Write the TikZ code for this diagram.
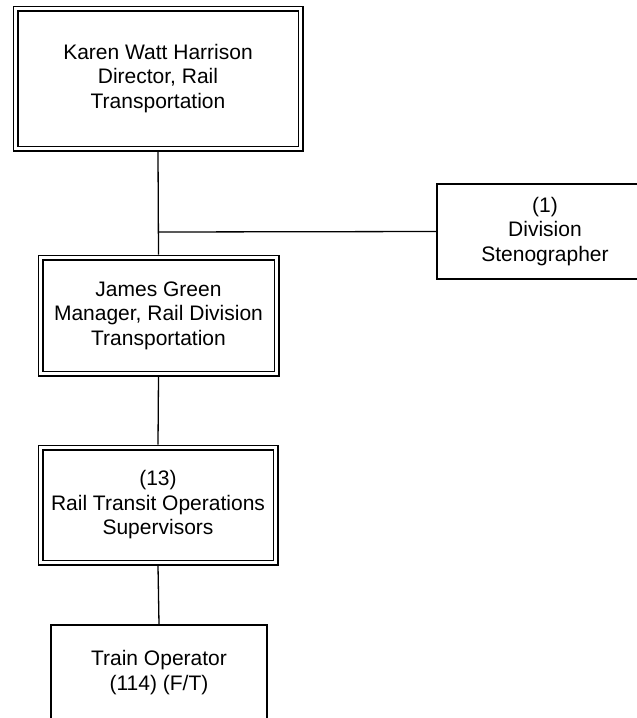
\documentclass[tikz,border=0pt]{standalone}
\usepackage{fontspec}
\setmainfont{Liberation Sans}
\begin{document}
\begin{tikzpicture}[x=1pt,y=-1pt,
  every node/.style={font=\fontsize{21}{24.5}\selectfont, align=center, inner sep=0pt},
  dbox/.style={draw, line width=1.2pt, double, double distance=3.6pt, outer sep=3pt, fill=white},
  sbox/.style={draw, line width=1.3pt, outer sep=0.6pt, fill=white},
  conn/.style={line width=1.3pt}]
\useasboundingbox (0,0) rectangle (637,718);
\clip (0,0) rectangle (637,718);
\node[dbox, minimum width=285pt, minimum height=140pt] (dir) at (158,78.5)
  {Karen Watt Harrison\\Director, Rail\\Transportation};
\node[dbox, minimum width=236pt, minimum height=116pt] (mgr) at (158.5,315.5)
  {James Green\\Manager, Rail Division\\Transportation};
\node[dbox, minimum width=235pt, minimum height=115pt] (sup) at (158,505)
  {(13)\\Rail Transit Operations\\Supervisors};
\node[sbox, minimum width=216pt, minimum height=95pt] (steno) at (545,231.5)
  {(1)\\Division\\Stenographer};
\node[sbox, minimum width=216pt, minimum height=95pt] (op) at (159,672.5)
  {Train Operator\\(114) (F/T)};
\coordinate (j) at (158,232);
\draw[conn] (dir.south) -- (mgr.north);
\draw[conn] (j) -- (steno.west);
\draw[conn] (mgr.south) -- (sup.north);
\draw[conn] (sup.south) -- (op.north);
\end{tikzpicture}
\end{document}
